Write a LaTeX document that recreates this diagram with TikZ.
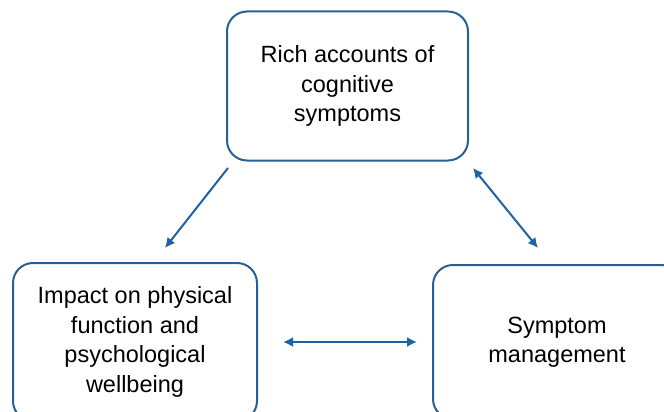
\documentclass[tikz,border=0pt]{standalone}
\usepackage{fontspec}
\setmainfont{Liberation Sans}
\usetikzlibrary{arrows.meta}
\definecolor{boxblue}{RGB}{40,96,148}
\definecolor{arrowblue}{RGB}{28,98,165}
\begin{document}
\begin{tikzpicture}[x=1pt,y=-1pt,
  theme/.style={draw=boxblue, line width=2pt, rounded corners=20pt, align=center, inner sep=0pt, font=\fontsize{23.5}{29.5}\selectfont},
  link/.style={draw=arrowblue, line width=2pt, -{Latex[length=10pt,width=10pt]}},
  both/.style={link, {Latex[length=10pt,width=10pt]}-{Latex[length=10pt,width=10pt]}}]
\useasboundingbox (0,0) rectangle (664,412);
\clip (0,0) rectangle (664,412);
% the three themes
\node[theme, minimum width=241pt, minimum height=149pt] (rich) at (347.5,86) {Rich accounts of\\cognitive\\symptoms};
\node[theme, minimum width=244pt, minimum height=158pt] (imp) at (135,342) {Impact on physical\\function and\\psychological\\wellbeing};
\node[theme, minimum width=248pt, minimum height=154pt] (sym) at (557,342) {Symptom\\management};
% links
\draw[link] ([shift={(2,6.5)}]rich.south west) -- ([shift={(30,-14)}]imp.north);
\draw[both] ([shift={(4,6.5)}]rich.south east) -- ([shift={(-19,-16)}]sym.north);
\draw[both, shorten <=25pt, shorten >=15pt] (imp.east) -- (sym.west);
\end{tikzpicture}
\end{document}
